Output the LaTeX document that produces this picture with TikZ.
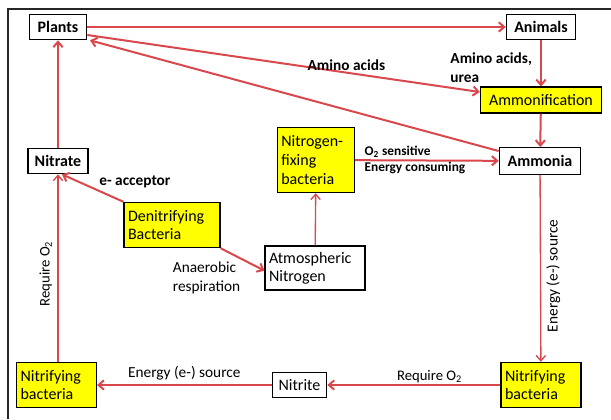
\documentclass[tikz,border=0pt]{standalone}
\usepackage{fontspec}
\setmainfont{Carlito}
\usepackage{tikz}
\usetikzlibrary{arrows.meta,positioning}
\definecolor{arrowred}{RGB}{217,72,77}
\definecolor{boxyellow}{RGB}{255,255,0}
\def\bigfont{\fontsize{12}{14.5}\selectfont}
\def\midfont{\fontsize{11.5}{14}\selectfont}
\def\smallfont{\fontsize{10}{12}\selectfont}
\tikzstyle{box} = [rectangle, draw=black, line width=1pt, fill=white, text=black, inner sep=3pt, font=\bigfont\bfseries]
\tikzstyle{ybox} = [rectangle, draw=black, line width=0.8pt, fill=boxyellow, text=black, inner sep=3pt, align=left, font=\bigfont]
\tikzstyle{wbox} = [ybox, fill=white]
\tikzstyle{arrow} = [draw=arrowred, line width=1.5pt, -{Straight Barb[length=4pt,width=7pt]}]
\tikzstyle{thinarrow} = [arrow, line width=1pt]
\tikzstyle{lbl} = [font=\midfont\bfseries, text=black, align=left, inner sep=1pt]
\tikzstyle{plainlbl} = [font=\midfont, text=black, align=left, inner sep=1pt]

\begin{document}
\begin{tikzpicture}[x=0.75pt,y=-0.75pt]
  \useasboundingbox (0,0) rectangle (611,419);
  \draw[line width=1.5pt, black!85] (8,419) -- (8,9) -- (611,9);

  % top row
  \node[box, minimum width=43pt, minimum height=19pt] (plants) at (58,27) {Plants};
  \node[box, minimum width=52pt, minimum height=19pt] (animals) at (541,27) {Animals};
  \node[ybox, minimum width=91pt, minimum height=19.5pt] (ammonif) at (541,100) {Ammonification};
  \node[box, minimum width=61pt, minimum height=20pt] (ammonia) at (540,161) {Ammonia};
  \node[box, minimum width=45pt, minimum height=19pt] (nitrate) at (58,161) {Nitrate};

  % middle
  \node[ybox, text width=52pt, minimum height=49pt] (nfix) at (316,160) {Nitrogen-\\fixing\\bacteria};
  \node[ybox, text width=66pt, minimum height=34pt, font=\fontsize{12}{13.5}\selectfont] (denit) at (172,225) {Denitrifying\\Bacteria};
  \node[wbox, text width=69pt, minimum height=33pt, font=\fontsize{12}{13.5}\selectfont] (atm) at (315,268) {Atmospheric\\Nitrogen};

  % bottom row
  \node[ybox, text width=54pt, minimum height=34pt, font=\fontsize{12}{13.5}\selectfont] (nitrL) at (56.5,385) {Nitrifying\\bacteria};
  \node[wbox, align=center, minimum width=41pt, minimum height=19pt] (nitrite) at (299.5,385) {Nitrite};
  \node[ybox, text width=54pt, minimum height=34pt, font=\fontsize{12}{13.5}\selectfont] (nitrR) at (541,385) {Nitrifying\\bacteria};

  % connectors
  \draw[arrow] (plants) -- (animals);
  \draw[arrow] ([yshift=-6pt]plants.east) -- node[lbl, above, pos=0.66] {Amino acids} ([yshift=6pt]ammonif.west);
  \draw[arrow] ([yshift=-3pt]ammonia.north west) -- ([xshift=2pt]plants.south east);
  \draw[arrow] (animals) -- node[lbl, left=5pt, yshift=-3pt] {Amino acids,\\urea} (ammonif);
  \draw[arrow] (ammonif) -- (ammonia);
  \draw[arrow] (nitrate) -- (plants);
  \draw[arrow] (denit.north west) -- node[lbl, pos=0.43, anchor=south west] {e- acceptor} ([xshift=3pt]nitrate.south);
  \draw[arrow] (denit.south east) -- node[plainlbl, pos=0.5, anchor=north east] {Anaerobic\\respiration} ([yshift=-2pt]atm.west);
  \draw[thinarrow] (atm) -- (nfix);
  \draw[arrow] (nfix) -- node[lbl, font=\smallfont\bfseries, pos=0.05, anchor=south west] {O\textsubscript{2} sensitive}
    node[lbl, font=\smallfont\bfseries, pos=0.05, anchor=north west] {Energy consuming} (ammonia);
  \draw[thinarrow] (ammonia) -- node[plainlbl, rotate=90, anchor=north, pos=0.54, inner sep=4pt] {Energy (e-) source} (nitrR);
  \draw[arrow] (nitrR) -- node[plainlbl, font=\fontsize{11}{13}\selectfont, above, pos=0.41] {Require O\textsubscript{2}} (nitrite);
  \draw[arrow] (nitrite) -- node[plainlbl, above=2pt, midway] {Energy (e-) source} (nitrL);
  \draw[thinarrow] (nitrL.north -| nitrate) -- node[plainlbl, font=\fontsize{11}{13}\selectfont, rotate=90, anchor=south, pos=0.47, inner sep=4pt] {Require O\textsubscript{2}} (nitrate);
\end{tikzpicture}
\end{document}
